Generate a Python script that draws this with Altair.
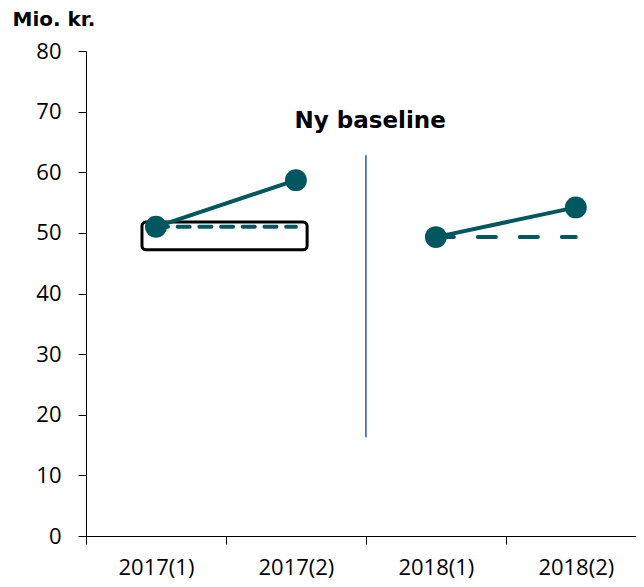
import altair as alt
import pandas as pd

# ---- data ----
periods = ["2017(1)", "2017(2)", "2018(1)", "2018(2)"]
index = [0, 1, 2, 3]
groups = ["2017", "2017", "2018", "2018"]
actual = [51.0, 58.7, 49.3, 54.2]
baseline = [51.0, 51.0, 49.3, 49.3]

# annotation elements
divider_x = [1.5]
divider_y = [16.3]
divider_y2 = [62.8]
note_x = [1.53]
note_y = [67.3]
note_text = ["Ny baseline"]
box_x = [-0.10]
box_x2 = [1.08]
box_y = [47.2]
box_y2 = [51.8]

TEAL = "#00575F"
FONT = "Open Sans"

df = pd.DataFrame({"idx": index, "period": periods, "grp": groups,
                   "actual": actual, "baseline": baseline})
df_div = pd.DataFrame({"x": divider_x, "y": divider_y, "y2": divider_y2})
df_note = pd.DataFrame({"x": note_x, "y": note_y, "t": note_text})
df_box = pd.DataFrame({"x": box_x, "x2": box_x2, "y": box_y, "y2": box_y2})

label_array = "[" + ",".join("'" + p + "'" for p in periods) + "]"
tick_values = [-0.5, 0, 0.5, 1, 1.5, 2, 2.5, 3]

x_scale = alt.Scale(domain=[-0.5, 3.43], nice=False, zero=False)
y_scale = alt.Scale(domain=[0, 80], nice=False)

x_axis = alt.Axis(
    values=tick_values,
    title=None,
    grid=False,
    labelExpr="datum.value % 1 == 0 ? " + label_array + "[datum.value] : ''",
    labelFont=FONT,
    labelFontSize=22,
    labelColor="black",
    labelPadding=13,
    labelOverlap=False,
    tickSize=8,
    tickColor="black",
    tickOpacity={"condition": {"test": "datum.value % 1 == 0", "value": 0}, "value": 1},
    domainColor="black",
)
y_axis = alt.Axis(
    values=[0, 10, 20, 30, 40, 50, 60, 70, 80],
    title="Mio. kr.",
    titleAngle=0,
    titleAlign="left",
    titleBaseline="alphabetic",
    titleX=-74,
    titleY=-26,
    titleFont="DejaVu Sans",
    titleFontSize=20,
    titleFontWeight="bold",
    titleColor="black",
    grid=False,
    labelFont=FONT,
    labelFontSize=22,
    labelColor="black",
    labelPadding=17,
    tickSize=8,
    tickColor="black",
    domainColor="black",
)

box = alt.Chart(df_box).mark_rect(
    fill="white", stroke="black", strokeWidth=3, cornerRadius=4
).encode(
    x=alt.X("x:Q", scale=x_scale, axis=x_axis),
    x2="x2:Q",
    y=alt.Y("y:Q", scale=y_scale, axis=y_axis),
    y2="y2:Q",
)

divider = alt.Chart(df_div).mark_rule(color="#4472C4", strokeWidth=1.8).encode(
    x="x:Q", y="y:Q", y2="y2:Q"
)

note = alt.Chart(df_note).mark_text(
    font="DejaVu Sans", fontSize=23, fontWeight="bold", color="black",
    align="center", baseline="alphabetic"
).encode(x="x:Q", y="y:Q", text="t:N")

dashed = alt.Chart(df).mark_line(strokeWidth=4, strokeCap="round", color=TEAL).encode(
    x="idx:Q",
    y="baseline:Q",
    detail="grp:N",
    strokeDash=alt.StrokeDash(
        "grp:N",
        scale=alt.Scale(domain=["2017", "2018"], range=[[12, 9.7], [18, 24]]),
        legend=None,
    ),
)

solid = alt.Chart(df).mark_line(strokeWidth=4, color=TEAL).encode(
    x="idx:Q", y="actual:Q", detail="grp:N"
)

points = alt.Chart(df).mark_circle(size=480, opacity=1, color=TEAL).encode(
    x="idx:Q", y="actual:Q"
)

chart = alt.layer(box, divider, note, dashed, solid, points).properties(
    width=550,
    height=485,
    autosize=alt.AutoSizeParams(type="none"),
    padding={"left": 78, "top": 43, "right": 0, "bottom": 45},
    background="white",
).configure_view(stroke=None)

chart.save("out.html", embed_options={"renderer": "svg", "actions": False})
